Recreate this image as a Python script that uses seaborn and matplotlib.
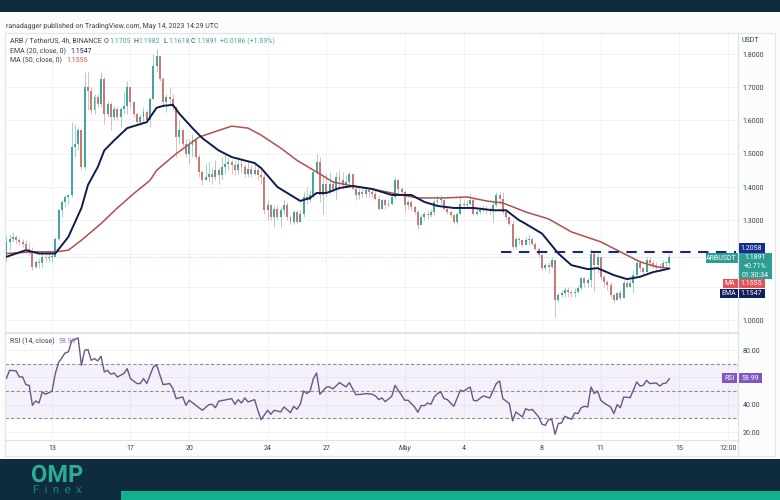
import matplotlib
matplotlib.use("Agg")
import matplotlib.pyplot as plt
from matplotlib.patches import Rectangle
import pandas as pd
import seaborn as sns

# candles, 4h each, candle 0 is 13 April
first_open = 1.185
first_candle = -14
closes = [
    1.235, 1.245, 1.25, 1.24, 1.235, 1.23, 1.215, 1.205, 1.16, 1.175,
    1.17, 1.19, 1.185, 1.19, 1.19, 1.245, 1.33, 1.355, 1.37, 1.375,
    1.52, 1.53, 1.57, 1.46, 1.70, 1.69, 1.63, 1.67, 1.65, 1.725,
    1.62, 1.65, 1.61, 1.635, 1.61, 1.635, 1.645, 1.70, 1.655, 1.62,
    1.595, 1.61, 1.625, 1.60, 1.665, 1.765, 1.795, 1.725, 1.655, 1.67,
    1.665, 1.64, 1.55, 1.57, 1.53, 1.50, 1.525, 1.54, 1.49, 1.445,
    1.42, 1.43, 1.44, 1.43, 1.45, 1.435, 1.46, 1.47, 1.475, 1.465,
    1.45, 1.47, 1.46, 1.44, 1.455, 1.44, 1.45, 1.435, 1.43, 1.33,
    1.345, 1.31, 1.335, 1.31, 1.33, 1.345, 1.31, 1.295, 1.325, 1.295,
    1.32, 1.37, 1.36, 1.375, 1.445, 1.475, 1.375, 1.41, 1.385, 1.41,
    1.395, 1.43, 1.42, 1.405, 1.415, 1.44, 1.395, 1.375, 1.385, 1.38,
    1.39, 1.385, 1.38, 1.365, 1.335, 1.36, 1.345, 1.35, 1.37, 1.42,
    1.395, 1.385, 1.345, 1.355, 1.34, 1.325, 1.285, 1.31, 1.32, 1.315,
    1.325, 1.355, 1.36, 1.36, 1.335, 1.325, 1.315, 1.295, 1.32, 1.35,
    1.345, 1.35, 1.36, 1.32, 1.325, 1.33, 1.335, 1.33, 1.33, 1.345,
    1.375, 1.365, 1.325, 1.31, 1.29, 1.22, 1.245, 1.24, 1.225, 1.24,
    1.245, 1.23, 1.215, 1.195, 1.155, 1.165, 1.16, 1.18, 1.06, 1.075,
    1.08, 1.09, 1.085, 1.08, 1.085, 1.095, 1.125, 1.11, 1.12, 1.20,
    1.165, 1.19, 1.13, 1.115, 1.105, 1.075, 1.06, 1.08, 1.065, 1.11,
    1.10, 1.11, 1.135, 1.17, 1.155, 1.145, 1.18, 1.17, 1.165, 1.16,
    1.155, 1.17, 1.1705, 1.1891,
]
highs = [
    1.255, 1.26, 1.265, 1.255, 1.25, 1.245, 1.24, 1.235, 1.22, 1.18,
    1.185, 1.205, 1.205, 1.205, 1.20, 1.25, 1.335, 1.36, 1.375, 1.38,
    1.595, 1.59, 1.58, 1.57, 1.745, 1.745, 1.70, 1.68, 1.68, 1.745,
    1.73, 1.66, 1.655, 1.645, 1.64, 1.64, 1.685, 1.72, 1.70, 1.66,
    1.625, 1.62, 1.64, 1.63, 1.67, 1.80, 1.815, 1.795, 1.73, 1.68,
    1.70, 1.68, 1.645, 1.60, 1.575, 1.545, 1.545, 1.56, 1.55, 1.50,
    1.45, 1.47, 1.475, 1.46, 1.48, 1.46, 1.49, 1.50, 1.49, 1.485,
    1.48, 1.49, 1.485, 1.47, 1.48, 1.465, 1.47, 1.46, 1.45, 1.44,
    1.36, 1.35, 1.345, 1.345, 1.34, 1.36, 1.355, 1.315, 1.33, 1.33,
    1.33, 1.385, 1.40, 1.39, 1.45, 1.50, 1.49, 1.44, 1.44, 1.445,
    1.42, 1.445, 1.45, 1.445, 1.435, 1.445, 1.44, 1.40, 1.40, 1.395,
    1.40, 1.395, 1.395, 1.39, 1.375, 1.365, 1.365, 1.36, 1.375, 1.43,
    1.425, 1.40, 1.39, 1.36, 1.36, 1.345, 1.33, 1.32, 1.325, 1.33,
    1.335, 1.365, 1.375, 1.375, 1.36, 1.34, 1.33, 1.32, 1.325, 1.37,
    1.36, 1.36, 1.38, 1.37, 1.335, 1.34, 1.345, 1.345, 1.34, 1.36,
    1.385, 1.385, 1.385, 1.33, 1.31, 1.30, 1.25, 1.25, 1.245, 1.25,
    1.26, 1.25, 1.235, 1.22, 1.20, 1.17, 1.175, 1.19, 1.18, 1.08,
    1.09, 1.10, 1.10, 1.09, 1.095, 1.105, 1.13, 1.13, 1.13, 1.215,
    1.21, 1.20, 1.175, 1.135, 1.12, 1.115, 1.08, 1.085, 1.09, 1.12,
    1.12, 1.12, 1.15, 1.18, 1.18, 1.16, 1.19, 1.19, 1.18, 1.175,
    1.17, 1.18, 1.175, 1.1982,
]
lows = [
    1.175, 1.21, 1.235, 1.23, 1.225, 1.22, 1.21, 1.195, 1.15, 1.155,
    1.155, 1.16, 1.175, 1.175, 1.175, 1.195, 1.24, 1.31, 1.34, 1.35,
    1.37, 1.49, 1.51, 1.45, 1.45, 1.63, 1.62, 1.62, 1.64, 1.64,
    1.59, 1.61, 1.57, 1.60, 1.60, 1.58, 1.62, 1.62, 1.64, 1.61,
    1.585, 1.585, 1.595, 1.595, 1.58, 1.665, 1.745, 1.72, 1.64, 1.625,
    1.65, 1.63, 1.49, 1.53, 1.52, 1.49, 1.47, 1.49, 1.485, 1.43,
    1.405, 1.42, 1.415, 1.41, 1.42, 1.41, 1.42, 1.44, 1.45, 1.44,
    1.435, 1.44, 1.445, 1.43, 1.43, 1.43, 1.435, 1.42, 1.41, 1.32,
    1.30, 1.30, 1.28, 1.30, 1.28, 1.32, 1.30, 1.29, 1.29, 1.29,
    1.295, 1.31, 1.35, 1.355, 1.37, 1.44, 1.355, 1.32, 1.37, 1.38,
    1.385, 1.365, 1.395, 1.395, 1.40, 1.40, 1.39, 1.36, 1.365, 1.37,
    1.37, 1.37, 1.37, 1.36, 1.33, 1.335, 1.335, 1.34, 1.345, 1.365,
    1.38, 1.375, 1.325, 1.335, 1.33, 1.32, 1.275, 1.29, 1.30, 1.305,
    1.31, 1.315, 1.345, 1.35, 1.33, 1.32, 1.31, 1.29, 1.29, 1.32,
    1.335, 1.34, 1.345, 1.315, 1.315, 1.32, 1.325, 1.32, 1.32, 1.295,
    1.34, 1.35, 1.32, 1.30, 1.285, 1.215, 1.215, 1.23, 1.22, 1.23,
    1.225, 1.225, 1.21, 1.19, 1.15, 1.15, 1.14, 1.155, 1.01, 1.055,
    1.07, 1.07, 1.07, 1.07, 1.07, 1.08, 1.09, 1.10, 1.10, 1.10,
    1.085, 1.14, 1.12, 1.10, 1.09, 1.065, 1.05, 1.06, 1.06, 1.065,
    1.095, 1.10, 1.08, 1.135, 1.145, 1.135, 1.145, 1.16, 1.155, 1.15,
    1.145, 1.15, 1.16, 1.1618,
]

# EMA 20
ema_x = [-14, -11, -8, -4, 1, 5, 9, 11, 14, 16, 19, 23, 26, 29, 32, 34, 37, 39, 43, 46,
         51, 55, 62, 64, 69, 73, 76, 79, 81, 84, 88, 92, 98, 104, 110, 114, 118, 123,
         129, 135, 139, 143, 144, 150, 155, 159, 164, 167, 172, 176, 180, 184, 189]
ema_y = [1.19, 1.20, 1.21, 1.20, 1.20, 1.25, 1.337, 1.406, 1.46, 1.51, 1.54, 1.577, 1.586,
         1.595, 1.638, 1.644, 1.647, 1.62, 1.577, 1.547, 1.51, 1.49, 1.472, 1.457, 1.40,
         1.376, 1.358, 1.367, 1.382, 1.382, 1.397, 1.403, 1.394, 1.376, 1.376, 1.355,
         1.343, 1.337, 1.337, 1.33, 1.33, 1.30, 1.295, 1.26, 1.20, 1.165, 1.153, 1.156,
         1.135, 1.123, 1.13, 1.144, 1.1547]

# MA 50
ma_x = [-14, -6, 1, 5, 9, 15, 20, 25, 30, 32, 38, 45, 51, 55, 60, 64, 70, 75, 81, 86, 92,
        98, 104, 112, 120, 127, 133, 138, 145, 152, 159, 168, 174, 180, 185, 189]
ma_y = [1.20, 1.205, 1.205, 1.21, 1.24, 1.29, 1.337, 1.38, 1.42, 1.45, 1.50, 1.55, 1.57,
        1.583, 1.577, 1.556, 1.517, 1.48, 1.445, 1.415, 1.403, 1.394, 1.382, 1.367, 1.367,
        1.37, 1.358, 1.352, 1.325, 1.304, 1.265, 1.235, 1.205, 1.175, 1.16, 1.1555]

# RSI 14
rsi_x = [-14, -13, -11, -10, -9, -8, -7, -6, -5, -4, -3, -2, 0, 1, 2, 4, 5, 6, 8, 9,
         10, 11, 12, 13, 14, 15, 16, 17, 18, 19, 20, 22, 23, 24, 26, 27, 28, 29, 31, 32,
         34, 36, 37, 38, 40, 41, 42, 46, 48, 49, 50, 51, 55, 56, 57, 58, 59, 60, 62, 63,
         64, 66, 67, 68, 70, 71, 73, 74, 75, 76, 77, 78, 79, 80, 81, 82, 84, 85, 86, 88,
         90, 91, 93, 95, 96, 98, 99, 100, 101, 102, 104, 105, 108, 109, 111, 112, 113, 114,
         115, 116, 117, 118, 119, 120, 121, 123, 125, 126, 128, 129, 130, 132, 134, 136,
         137, 138, 140, 141, 142, 144, 145, 146, 147, 149, 150, 151, 152, 153, 154, 155,
         156, 157, 159, 160, 161, 162, 163, 164, 165, 166, 167, 168, 169, 171, 172, 173,
         174, 175, 177, 179, 180, 181, 182, 183, 185, 186, 187, 188, 189]
rsi_y = [59.0, 65.1, 64.6, 60.2, 60.2, 54.6, 54.1, 39.5, 42.7, 41.2, 49.3, 47.6, 49.8, 62.7,
         70.7, 77.7, 78.5, 86.5, 88.7, 68.7, 79.7, 80.2, 72.4, 73.6, 71.9, 75.3, 63.9, 65.1,
         62.2, 63.1, 60.2, 62.7, 66.3, 59.0, 55.4, 55.4, 59.0, 55.4, 67.5, 69.2, 54.6, 55.4,
         51.7, 44.4, 45.6, 39.5, 43.2, 35.9, 40.0, 40.3, 37.8, 42.5, 44.4, 40.3, 43.7, 41.2,
         44.9, 42.0, 43.7, 35.9, 29.1, 35.9, 33.0, 35.9, 34.7, 38.3, 34.2, 38.8, 36.6, 40.3,
         50.0, 48.1, 49.8, 59.0, 63.1, 47.6, 52.9, 52.9, 51.5, 56.1, 52.9, 56.1, 47.3, 47.6,
         48.1, 47.6, 46.4, 43.7, 44.9, 42.2, 46.1, 54.1, 43.2, 43.2, 38.3, 34.4, 39.3, 39.3,
         41.2, 40.3, 45.6, 48.1, 49.3, 44.4, 43.7, 38.8, 50.5, 49.8, 52.9, 43.2, 42.7, 46.4,
         44.9, 55.4, 57.3, 44.4, 40.8, 28.1, 34.7, 31.0, 37.1, 35.9, 36.6, 31.0, 25.7, 24.9,
         29.1, 29.1, 18.4, 26.2, 26.6, 31.5, 29.3, 33.9, 33.5, 37.8, 38.8, 38.3, 52.9, 48.1,
         50.0, 43.2, 41.2, 38.3, 33.5, 40.0, 37.8, 45.6, 45.1, 56.6, 53.6, 54.1, 57.8, 55.4,
         55.8, 53.6, 55.4, 55.8, 58.99]

resistance = 1.2058
last_close = 1.1891
price_ticks = [1.0, 1.1, 1.2, 1.3, 1.4, 1.5, 1.6, 1.7, 1.8]
price_labels = ["1.0000", "", "", "1.3000", "1.4000", "1.5000", "1.6000", "1.7000", "1.8000"]
rsi_ticks = [20, 40, 60, 80]
rsi_labels = ["20.00", "40.00", "", "80.00"]
date_ticks = [0, 24, 42, 66, 84, 108, 126, 150, 168, 192, 207]
date_labels = ["13", "17", "20", "24", "27", "May", "4", "8", "11", "15", "12:00"]

TEAL = "#45a69c"
RED = "#c97a74"
NAVY = "#101b4e"
DARK_BG = "#0f2c3f"
GRID = "#f1f3f6"
TEXT = "#3a3e4a"
FS = 5.0

sns.set_theme(style="white")
plt.rcParams["font.family"] = ["Roboto", "DejaVu Sans"]
plt.rcParams["text.hinting"] = "no_hinting"

W, H = 780, 500
fig = plt.figure(figsize=(W / 100, H / 100), dpi=100, facecolor="#fbfcfc")


def axesAt(left, top, right, bottom, **kwargs):
    """Axes placed by pixel edges of the picture"""
    return fig.add_axes([left / W, 1 - bottom / H, (right - left) / W, (bottom - top) / H], **kwargs)


# Overlay for the page furniture, in picture pixels
page = axesAt(0, 0, W, H, zorder=5)
page.set_xlim(0, W)
page.set_ylim(H, 0)
page.axis("off")
page.patch.set_alpha(0)

axPrice = axesAt(5, 33, 738, 332, zorder=2)
axRsi = axesAt(5, 333, 738, 440, zorder=2)

candles = pd.DataFrame({"close": closes, "high": highs, "low": lows})
candles["x"] = range(first_candle, first_candle + len(candles))
candles["open"] = [first_open] + closes[:-1]
candles["color"] = [TEAL if c >= o else RED for o, c in zip(candles["open"], candles["close"])]

for ax in [axPrice, axRsi]:
    ax.set_xlim(-14.4, 210)
    ax.set_xticks(date_ticks)
    ax.grid(True, color=GRID, lw=0.7)
    ax.set_axisbelow(True)
    ax.yaxis.tick_right()
    ax.tick_params(axis="both", length=0, labelsize=FS, labelcolor=TEXT, pad=3.5)
    for side in ax.spines:
        ax.spines[side].set_color("#dfe2e8")
        ax.spines[side].set_linewidth(0.8)

# Price pane
axPrice.set_ylim(0.964, 1.863)
axPrice.set_yticks(price_ticks, price_labels)
axPrice.set_xticklabels([])
axPrice.axhline(last_close, color="#9fd6cf", lw=0.6, ls=":", zorder=1)
axPrice.vlines(candles["x"], candles["low"], candles["high"], colors=candles["color"], lw=0.7, alpha=0.5, zorder=2)
axPrice.bar(candles["x"], (candles["close"] - candles["open"]).abs().clip(lower=0.004),
            bottom=candles[["open", "close"]].min(axis=1), width=0.6, color=candles["color"], lw=0, zorder=3)
sns.lineplot(x=ma_x, y=ma_y, ax=axPrice, color="#b0504e", lw=1.1, zorder=4, estimator=None)
sns.lineplot(x=ema_x, y=ema_y, ax=axPrice, color=NAVY, lw=1.4, zorder=5, estimator=None)
axPrice.plot([137.5, 209.5], [resistance, resistance], color="#1a2a78", lw=1.5, ls=(0, (5, 3.6)), zorder=6)

# RSI pane
axRsi.set_ylim(14.2, 92.3)
axRsi.set_yticks(rsi_ticks, rsi_labels)
axRsi.set_xticklabels(date_labels)
axRsi.get_xticklabels()[5].set_style("italic")
axRsi.axhspan(30, 70, color="#7e57c2", alpha=0.08, lw=0, zorder=1)
for level in [30, 50, 70]:
    axRsi.axhline(level, color="#8f8c9a", lw=0.8, ls=(0, (3, 2)), zorder=2)
sns.lineplot(x=rsi_x, y=rsi_y, ax=axRsi, color="#6c5587", lw=1.0, zorder=3, estimator=None)

# Page bands
page.add_patch(Rectangle((0, 0), W, 12, color=DARK_BG, lw=0))
page.add_patch(Rectangle((0, 459), W, 41, color=DARK_BG, lw=0))
page.add_patch(Rectangle((121, 491), W - 121, 9, color="#12b08e", lw=0))
page.add_patch(Rectangle((5, 33), 770, 423, fill=False, ec="#e4e6eb", lw=0.8))
page.plot([738, 738], [33, 456], color="#dfe2e8", lw=0.8)

# Header texts
page.text(6, 26, "ranadagger published on TradingView.com, May 14, 2023 14:29 UTC", fontsize=FS, color=TEXT, va="center")
page.text(742, 40, "USDT", fontsize=FS, color=TEXT, va="center")
page.text(10, 41, "ARB / TetherUS, 4h, BINANCE", fontsize=FS, color=TEXT, va="center")
for x, label, value in [(104, "O", "1.1705"), (133, "H", "1.1982"), (163, "L", "1.1618"), (191, "C", "1.1891")]:
    page.text(x, 41, label, fontsize=FS, color=TEXT, va="center")
    page.text(x + 5, 41, value, fontsize=FS, color=TEAL, va="center")
page.text(220, 41, "+0.0186 (+1.59%)", fontsize=FS, color=TEAL, va="center")
page.text(10, 51, "EMA (20, close, 0)", fontsize=FS, color=TEXT, va="center")
page.text(70, 51, "1.1547", fontsize=FS, color=NAVY, va="center")
page.text(10, 60.5, "MA (50, close, 0)", fontsize=FS, color=TEXT, va="center")
page.text(66, 60.5, "1.1555", fontsize=FS, color="#c0504e", va="center")
page.text(10, 341, "RSI (14, close)", fontsize=FS, color=TEXT, va="center")
page.text(58, 341, "58.99", fontsize=FS, color="#8f72c4", va="center")


def badge(left, top, right, bottom, color, lines):
    """Coloured label with centred white text"""
    page.add_patch(Rectangle((left, top), right - left, bottom - top, color=color, lw=0))
    step = (bottom - top) / len(lines)
    for i, line in enumerate(lines):
        page.text((left + right) / 2, top + step * (i + 0.5), line, color="white", fontsize=FS, ha="center", va="center")


badge(738, 243, 765, 252.5, "#1a2a8c", ["1.2058"])
badge(706, 253, 737.5, 262.5, "#2e9e93", ["ARBUSDT"])
badge(738, 253, 772, 279, "#2e9e93", ["1.1891", "+0.71%", "01:30:34"])
badge(723, 279, 737.5, 288, "#e0555a", ["MA"])
badge(738, 279, 765, 288, "#e0555a", ["1.1555"])
badge(720, 288.5, 737.5, 297.5, "#141e5c", ["EMA"])
badge(738, 288.5, 765, 297.5, "#141e5c", ["1.1547"])
badge(722, 373, 737, 383, "#7e57c2", ["RSI"])
badge(738, 373, 762, 383, "#7e57c2", ["58.99"])

# Logo
page.text(57, 475, "OMP", fontsize=17, fontweight="bold", color="#2cab95", ha="center", va="center")
page.text(57, 491, "F  i  n  e  x", fontsize=8, color="#1c8577", ha="center", va="center")

fig.savefig("out.png", dpi=100, facecolor=fig.get_facecolor())
